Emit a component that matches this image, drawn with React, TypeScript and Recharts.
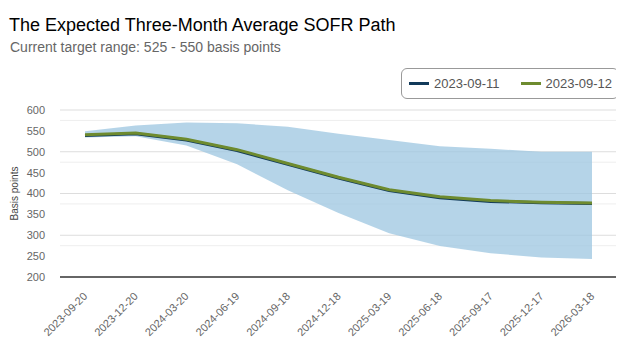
import React from "react";
import {
  Area,
  CartesianGrid,
  ComposedChart,
  Line,
  XAxis,
  YAxis,
} from "recharts";

// meeting dates on the x axis
const dates = [
  "2023-09-20",
  "2023-12-20",
  "2024-03-20",
  "2024-06-19",
  "2024-09-18",
  "2024-12-18",
  "2025-03-19",
  "2025-06-18",
  "2025-09-17",
  "2025-12-17",
  "2026-03-18",
];

// expected path, basis points
const path0911 = [539, 543, 528, 503, 470, 437, 407, 390, 381, 378, 376];
const path0912 = [541, 545, 530, 505, 472, 439, 409, 392, 383, 379, 377];

// shaded range
const bandLow = [534, 537, 515, 470, 408, 353, 305, 274, 257, 247, 243];
const bandHigh = [549, 563, 570, 568, 560, 543, 528, 513, 507, 500, 500];

const majorTicks = [200, 250, 300, 350, 400, 450, 500, 550, 600];
const minorTicks = [225, 275, 325, 375, 425, 475, 525, 575];

const NAVY = "#123a5a";
const GREEN = "#6e8b2f";

const data = dates.map((d, i) => ({
  date: d,
  a: path0911[i],
  b: path0912[i],
  band: [bandLow[i], bandHigh[i]],
}));

const DateTick = (props: any) => {
  const { x, y, payload } = props;
  return (
    <g transform={`translate(${x + 3},${y + 12})`}>
      <text
        transform="rotate(-45)"
        textAnchor="end"
        fontSize={11}
        fill="#666"
        fontFamily="'Liberation Sans', Arial, sans-serif"
      >
        {payload.value}
      </text>
    </g>
  );
};

export default function App() {
  const font = "'Liberation Sans', Arial, sans-serif";
  return (
    <div
      style={{
        position: "relative",
        width: 624,
        height: 350,
        margin: -8,
        background: "#fff",
        fontFamily: font,
      }}
    >
      <div
        style={{ position: "absolute", left: 9, top: 15, fontSize: 18, color: "#000", whiteSpace: "nowrap" }}
      >
        The Expected Three-Month Average SOFR Path
      </div>
      <div
        style={{ position: "absolute", left: 10, top: 39, fontSize: 14, color: "#666", whiteSpace: "nowrap" }}
      >
        Current target range: 525 - 550 basis points
      </div>

      {/* legend box */}
      <div
        style={{
          position: "absolute",
          left: 401,
          top: 68,
          width: 216,
          height: 29,
          border: "1px solid #999",
          borderRadius: 6,
          display: "flex",
          alignItems: "center",
          fontSize: 13,
          color: "#555",
          whiteSpace: "nowrap",
        }}
      >
        <span style={{ display: "inline-block", width: 20, height: 3, background: NAVY, marginLeft: 7, marginRight: 5 }} />
        <span>2023-09-11</span>
        <span style={{ display: "inline-block", width: 20, height: 3, background: GREEN, marginLeft: 21, marginRight: 5 }} />
        <span>2023-09-12</span>
      </div>

      <div style={{ position: "absolute", left: 0, top: 0 }}>
        <ComposedChart
          width={624}
          height={350}
          data={data}
          margin={{ top: 110, right: 7, left: 0, bottom: 0 }}
        >
          <CartesianGrid
            vertical={false}
            horizontalValues={minorTicks}
            stroke="#eeeeee"
          />
          <CartesianGrid
            vertical={false}
            horizontalValues={majorTicks}
            stroke="#dddddd"
          />
          <XAxis
            dataKey="date"
            padding={{ left: 25, right: 25 }}
            tickLine={false}
            axisLine={{ stroke: "#666", strokeWidth: 2 }}
            tick={<DateTick />}
            interval={0}
            height={73}
          />
          <YAxis
            domain={[200, 600]}
            ticks={majorTicks}
            width={60}
            axisLine={false}
            tickLine={false}
            tickMargin={9}
            tick={{ fontSize: 11, fill: "#666", fontFamily: font }}
            label={{
              value: "Basis points",
              angle: -90,
              position: "insideLeft",
              offset: 14,
              style: { fontSize: 10, fill: "#444", fontFamily: font, textAnchor: "middle" },
            }}
          />
          <Area
            dataKey="band"
            stroke="none"
            fill="#9cc6e0"
            fillOpacity={0.75}
            isAnimationActive={false}
          />
          <Line
            dataKey="a"
            stroke={NAVY}
            strokeWidth={3}
            dot={false}
            isAnimationActive={false}
          />
          <Line
            dataKey="b"
            stroke={GREEN}
            strokeWidth={3}
            dot={false}
            isAnimationActive={false}
          />
        </ComposedChart>
      </div>
    </div>
  );
}
